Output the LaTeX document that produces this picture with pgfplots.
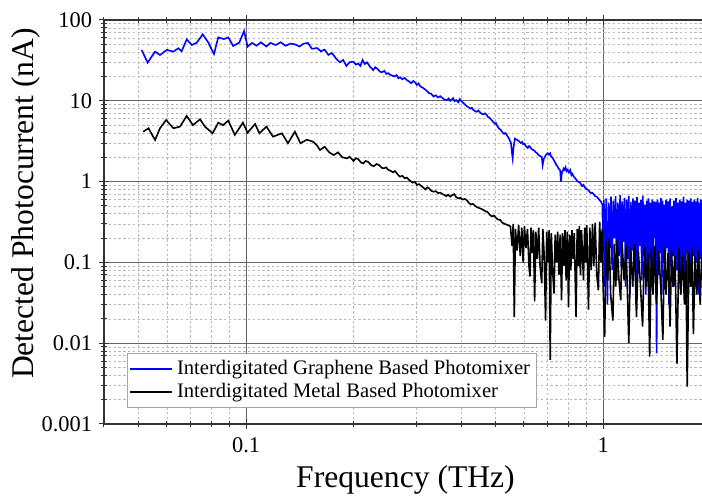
\documentclass[border=0pt]{standalone}
\usepackage{pgfplots}
\pgfplotsset{compat=1.18}
\usepackage{fontspec}
\setmainfont{Liberation Serif}

\begin{document}
\begin{tikzpicture}
\begin{axis}[
    name=ax,
    xmode=log, ymode=log,
    scale only axis,
    width=303.3pt, height=202pt,
    xmin=0.04, xmax=2,
    ymin=0.001, ymax=100,
    xtick={0.1,1}, xticklabels={0.1,1},
    ytick={0.001,0.01,0.1,1,10,100},
    yticklabels={0.001,0.01,0.1,1,10,100},
    minor xtick={0.04,0.05,0.06,0.07,0.08,0.09,0.2,0.3,0.4,0.5,0.6,0.7,0.8,0.9,2},
    minor ytick={0.002,0.003,0.004,0.005,0.006,0.007,0.008,0.009,
                 0.02,0.03,0.04,0.05,0.06,0.07,0.08,0.09,
                 0.2,0.3,0.4,0.5,0.6,0.7,0.8,0.9,
                 2,3,4,5,6,7,8,9,20,30,40,50,60,70,80,90},
    grid=both,
    major grid style={black!60, line width=0.5pt},
    minor grid style={gray!55, line width=0.3pt, dash pattern=on 1.2pt off 1.2pt},
    axis line style={black!80, line width=0.6pt},
    tick align=center,
    major tick length=5pt, minor tick length=3pt,
    every tick/.style={black!80, line width=0.5pt},
    tick label style={font=\fontsize{11.2}{13}\selectfont},
    xticklabel style={yshift=-1pt},
    xlabel={Frequency (THz)},
    ylabel={Detected Photocurrent (nA)},
    label style={font=\fontsize{15.8}{18}\selectfont},
    xlabel style={at={(axis description cs:0.497,0)}, yshift=-28pt, anchor=center},
    ylabel style={at={(axis description cs:-0.128,0.546)}, anchor=center},
    legend style={at={(axis description cs:0.038,0.176)}, anchor=north west,
        draw=gray!70, line width=0.4pt, fill=white,
        font=\fontsize{10.3}{12.5}\selectfont, inner xsep=1pt, inner ysep=1.5pt,
        row sep=-1pt},
    legend cell align=left,
    legend image code/.code={\draw[#1, line width=0.8pt] (0pt,0pt) -- (21pt,0pt);},
]
\addplot[blue, line width=0.8pt] coordinates {
(0.051,42.6) (0.053,29.6) (0.0556,40.6) (0.0574,36.9) (0.060,42.6) (0.0626,40.6)
(0.0646,44.7) (0.066,41) (0.0682,57.5) (0.0705,49) (0.0728,52.5) (0.0756,66.5)
(0.0784,52.5) (0.0813,37.9) (0.0836,61) (0.0867,58) (0.0892,61) (0.092,47.7)
(0.0957,52.5) (0.0987,73) (0.101,46.8) (0.104,52) (0.107,48) (0.110,53) (0.114,47)
(0.117,52) (0.121,49) (0.125,53) (0.129,48) (0.133,51) (0.137,50) (0.141,47)
(0.145,51) (0.149,52) (0.153,44) (0.158,45) (0.162,41) (0.166,43) (0.170,37)
(0.174,39) (0.179,33) (0.183,30) (0.187,32) (0.191,27) (0.195,30) (0.200,30.5)
(0.203,28) (0.206,29) (0.209,27) (0.212,32) (0.215,28.5) (0.218,30) (0.223,26)
(0.227,24) (0.230,26) (0.233,25) (0.237,23) (0.240,22.5) (0.244,23.5) (0.247,21.5)
(0.250,22) (0.253,21) (0.257,20.5) (0.260,20) (0.264,20.8) (0.267,19) (0.270,19.6)
(0.274,18.5) (0.278,19.2) (0.282,18) (0.286,17.4) (0.290,16.5) (0.294,17.6)
(0.297,17) (0.301,15.7) (0.304,16.4) (0.308,15) (0.312,14.6) (0.316,14)
(0.320,13.4) (0.325,12.5) (0.330,12.2) (0.335,11.3) (0.340,11.7) (0.345,11)
(0.350,11.4) (0.355,10.8) (0.360,10.3) (0.365,10.2) (0.369,10.7) (0.373,10)
(0.377,10.4) (0.380,10.8) (0.384,9.9) (0.388,10.2) (0.393,9.6) (0.397,10.5)
(0.401,9.9) (0.405,9.5) (0.410,9.0) (0.415,8.6) (0.420,8.3) (0.425,8.0) (0.429,8.2)
(0.433,7.7) (0.437,7.5) (0.442,7.3) (0.447,7.6) (0.452,7.2) (0.457,6.9) (0.462,6.8)
(0.467,7.0) (0.472,6.7) (0.476,6.3) (0.480,6.2) (0.485,5.9) (0.490,5.6) (0.494,5.4)
(0.498,5.2) (0.501,5.3) (0.504,5.0) (0.508,4.7) (0.512,4.5) (0.516,4.4) (0.520,4.2)
(0.524,4.0) (0.528,3.9) (0.532,4.0) (0.537,3.8) (0.541,3.6) (0.545,3.4) (0.552,3.0)
(0.556,2.2) (0.558,1.94) (0.561,2.6) (0.566,3.4) (0.573,3.3) (0.580,3.2) (0.588,3.0)
(0.593,3.1) (0.597,2.9) (0.602,2.95) (0.606,2.8) (0.610,2.7) (0.615,2.6) (0.620,2.75)
(0.624,2.7) (0.629,2.55) (0.633,2.5) (0.638,2.45) (0.643,2.4) (0.648,2.3)
(0.653,2.25) (0.658,2.15) (0.663,2.1) (0.668,2.05) (0.673,2.03) (0.677,1.6)
(0.682,1.9) (0.690,2.1) (0.695,2.2) (0.700,2.25) (0.705,2.15) (0.711,2.24)
(0.715,2.05) (0.720,2.0) (0.725,1.9) (0.730,1.8) (0.735,1.7) (0.740,1.6)
(0.745,1.55) (0.750,1.45) (0.758,1.39) (0.762,1.0) (0.767,1.3) (0.771,1.35)
(0.775,1.45) (0.780,1.4) (0.785,1.5) (0.790,1.35) (0.795,1.4) (0.802,1.3)
(0.809,1.39) (0.815,1.2) (0.820,1.25) (0.828,1.15) (0.835,1.1) (0.842,1.05)
(0.850,1.0) (0.857,0.98) (0.865,0.95) (0.873,0.88) (0.881,0.91) (0.888,0.85)
(0.895,0.82) (0.902,0.8) (0.910,0.78) (0.918,0.74) (0.925,0.72) (0.932,0.73)
(0.940,0.70) (0.950,0.66) (0.960,0.65) (0.968,0.62) (0.975,0.60)
(0.987,0.56) (0.995,0.52) (1.000,0.13) (1.005,0.60) (1.012,0.05) (1.020,0.62)
(1.028,0.03) (1.036,0.55) (1.044,0.15) (1.052,0.65) (1.060,0.08) (1.068,0.58)
(1.076,0.20) (1.084,0.66) (1.092,0.06) (1.100,0.55) (1.108,0.12) (1.116,0.68)
(1.124,0.09) (1.132,0.57) (1.140,0.18) (1.148,0.63) (1.156,0.05) (1.164,0.60)
(1.172,0.11) (1.180,0.66) (1.188,0.04) (1.196,0.56) (1.204,0.14) (1.212,0.62)
(1.220,0.08) (1.228,0.58) (1.236,0.03) (1.244,0.64) (1.252,0.10) (1.260,0.55)
(1.268,0.16) (1.276,0.60) (1.284,0.06) (1.292,0.67) (1.300,0.12) (1.308,0.52)
(1.316,0.04) (1.324,0.58) (1.332,0.09) (1.340,0.62) (1.348,0.02) (1.356,0.55)
(1.364,0.11) (1.372,0.60) (1.380,0.05) (1.388,0.57) (1.396,0.20) (1.404,0.56)
(1.412,0.0075) (1.420,0.60) (1.428,0.07) (1.436,0.55) (1.444,0.13) (1.452,0.63)
(1.460,0.04) (1.468,0.58) (1.476,0.10) (1.484,0.52) (1.492,0.06) (1.500,0.60)
(1.510,0.15) (1.520,0.57) (1.530,0.03) (1.540,0.62) (1.550,0.09) (1.560,0.50)
(1.570,0.12) (1.580,0.58) (1.590,0.05) (1.600,0.63) (1.610,0.08) (1.620,0.55)
(1.630,0.14) (1.640,0.60) (1.650,0.04) (1.660,0.57) (1.670,0.10) (1.680,0.65)
(1.690,0.06) (1.700,0.55) (1.710,0.13) (1.720,0.60) (1.730,0.03) (1.740,0.58)
(1.750,0.09) (1.760,0.62) (1.770,0.07) (1.780,0.56) (1.790,0.12) (1.800,0.60)
(1.810,0.05) (1.820,0.57) (1.830,0.10) (1.840,0.63) (1.850,0.04) (1.860,0.55)
(1.870,0.11) (1.880,0.60) (1.890,0.06) (1.900,0.58) (1.910,0.09)
};
\addlegendentry{Interdigitated Graphene Based Photomixer}
\addplot[black, line width=0.8pt] coordinates {
(0.0515,4.15) (0.0533,4.57) (0.0556,3.27) (0.0574,4.57) (0.0597,5.78) (0.0626,4.57)
(0.0653,4.79) (0.0682,6.5) (0.071,5.0) (0.0743,5.9) (0.0767,4.79) (0.0806,3.96)
(0.0836,5.36) (0.0862,5.0) (0.0892,5.68) (0.093,3.78) (0.098,5.36) (0.101,4.03)
(0.106,5.16) (0.109,3.96) (0.114,4.79) (0.119,3.6) (0.126,3.96) (0.131,2.98)
(0.137,4.15) (0.142,2.98) (0.148,3.3) (0.154,3.12) (0.158,2.8) (0.161,2.46)
(0.166,2.7) (0.171,2.3) (0.176,2.13) (0.181,2.3) (0.186,2.0) (0.192,1.94)
(0.195,2.03) (0.200,1.8) (0.203,1.95) (0.206,1.9) (0.210,1.72) (0.213,1.68)
(0.216,1.8) (0.220,1.75) (0.224,1.6) (0.228,1.55) (0.232,1.65) (0.236,1.6)
(0.240,1.48) (0.243,1.46) (0.247,1.5) (0.250,1.4) (0.254,1.36) (0.258,1.3)
(0.261,1.35) (0.264,1.28) (0.267,1.2) (0.270,1.15) (0.274,1.18) (0.278,1.1)
(0.282,1.12) (0.286,1.05) (0.290,1.0) (0.293,0.97) (0.297,0.99) (0.301,0.91)
(0.305,0.93) (0.310,0.88) (0.314,0.84) (0.318,0.8) (0.322,0.85) (0.326,0.82)
(0.330,0.77) (0.335,0.75) (0.340,0.76) (0.345,0.72) (0.350,0.73) (0.355,0.7)
(0.360,0.68) (0.364,0.66) (0.368,0.69) (0.373,0.65) (0.378,0.68) (0.383,0.7)
(0.388,0.64) (0.393,0.62) (0.398,0.63) (0.404,0.6) (0.410,0.61) (0.415,0.59)
(0.420,0.55) (0.426,0.52) (0.432,0.53) (0.438,0.5) (0.444,0.48) (0.450,0.47)
(0.456,0.46) (0.462,0.445) (0.468,0.43) (0.475,0.42) (0.481,0.39) (0.488,0.37)
(0.494,0.38) (0.500,0.36) (0.507,0.34) (0.515,0.335) (0.522,0.31)
(0.530,0.3) (0.540,0.29) (0.550,0.28) (0.556,0.16) (0.560,0.30) (0.564,0.021)
(0.568,0.26) (0.574,0.14) (0.580,0.29) (0.586,0.12) (0.592,0.27) (0.597,0.10)
(0.602,0.28) (0.608,0.15) (0.614,0.26) (0.620,0.09) (0.624,0.067) (0.628,0.27)
(0.634,0.13) (0.638,0.25) (0.643,0.033) (0.648,0.24) (0.654,0.11) (0.660,0.27)
(0.666,0.09) (0.673,0.055) (0.678,0.26) (0.684,0.12) (0.690,0.019) (0.695,0.24)
(0.700,0.10) (0.706,0.25) (0.711,0.0062) (0.716,0.23) (0.722,0.08) (0.729,0.041)
(0.734,0.22) (0.740,0.10) (0.746,0.24) (0.752,0.07) (0.758,0.22) (0.765,0.034)
(0.770,0.23) (0.776,0.09) (0.782,0.25) (0.788,0.06) (0.794,0.24) (0.800,0.028)
(0.806,0.22) (0.812,0.08) (0.818,0.25) (0.824,0.11) (0.830,0.23) (0.840,0.021)
(0.846,0.26) (0.852,0.09) (0.858,0.28) (0.864,0.07) (0.870,0.25) (0.876,0.12)
(0.881,0.06) (0.888,0.27) (0.894,0.10) (0.900,0.29) (0.910,0.026) (0.918,0.27)
(0.926,0.08) (0.934,0.30) (0.942,0.09) (0.950,0.31) (0.960,0.07) (0.970,0.045)
(0.978,0.32) (0.986,0.10) (0.994,0.26) (1.000,0.05) (1.010,0.012) (1.020,0.18)
(1.030,0.06) (1.040,0.20) (1.050,0.04) (1.065,0.019) (1.075,0.17) (1.085,0.05)
(1.095,0.19) (1.105,0.07) (1.120,0.034) (1.130,0.18) (1.145,0.06) (1.160,0.16)
(1.180,0.010) (1.195,0.15) (1.210,0.05) (1.225,0.17) (1.240,0.021) (1.255,0.14)
(1.270,0.06) (1.290,0.016) (1.305,0.16) (1.320,0.05) (1.335,0.13) (1.350,0.0068)
(1.365,0.15) (1.380,0.04) (1.395,0.16) (1.410,0.03) (1.430,0.14) (1.450,0.05)
(1.470,0.011) (1.485,0.15) (1.500,0.04) (1.520,0.13) (1.540,0.016) (1.555,0.14)
(1.570,0.05) (1.590,0.12) (1.610,0.0056) (1.630,0.15) (1.650,0.04) (1.670,0.12)
(1.690,0.03) (1.705,0.14) (1.720,0.0029) (1.740,0.13) (1.760,0.05) (1.775,0.15)
(1.790,0.013) (1.810,0.12) (1.830,0.04) (1.850,0.14) (1.870,0.03) (1.890,0.13)
(1.910,0.05)
};
\addlegendentry{Interdigitated Metal Based Photomixer}
\end{axis}
\pgfresetboundingbox
\path[use as bounding box] (ax.south west) ++(-52pt,-36pt) rectangle ++(351pt,248pt);
\end{tikzpicture}
\end{document}
